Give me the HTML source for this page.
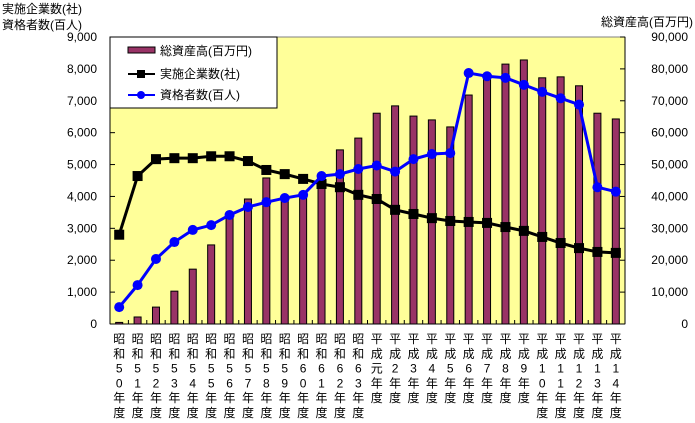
<!DOCTYPE html>
<html><head><meta charset="utf-8"><style>
body{margin:0;background:#fff;}
svg{display:block;font-family:"Liberation Sans","Noto Sans CJK JP",sans-serif;}
</style></head><body>
<svg id="chart" width="695" height="423">
<rect x="110" y="37" width="515" height="287" fill="#FFFF99" stroke="#808080"/>
<g id="bars"></g>
<g id="lines"></g>
<g id="axes"></g>
<text x="2" y="13" font-size="12">実施企業数(社)</text>
<text x="2" y="29" font-size="12">資格者数(百人)</text>
<text x="693" y="26" font-size="12" text-anchor="end">総資産高(百万円)</text>
<g>
<rect x="110" y="37" width="167" height="71" fill="#fff" stroke="#000"/>
<rect x="128" y="47" width="27" height="6" fill="#993366" stroke="#000"/>
<text x="160" y="55" font-size="12">総資産高(百万円)</text>
<line x1="128" y1="74" x2="155" y2="74" stroke="#000" stroke-width="2"/><rect x="137" y="70" width="8" height="8" fill="#000"/>
<text x="160" y="78" font-size="12">実施企業数(社)</text>
<line x1="128" y1="95" x2="155" y2="95" stroke="#0000FF" stroke-width="2"/><circle cx="141" cy="95" r="4" fill="#0000FF"/>
<text x="160" y="99" font-size="12">資格者数(百人)</text>
</g>
</svg>
<script>
const categories=[["昭","和","5","0","年","度"],["昭","和","5","1","年","度"],["昭","和","5","2","年","度"],["昭","和","5","3","年","度"],["昭","和","5","4","年","度"],["昭","和","5","5","年","度"],["昭","和","5","6","年","度"],["昭","和","5","7","年","度"],["昭","和","5","8","年","度"],["昭","和","5","9","年","度"],["昭","和","6","0","年","度"],["昭","和","6","1","年","度"],["昭","和","6","2","年","度"],["昭","和","6","3","年","度"],["平","成","元","年","度"],["平","成","2","年","度"],["平","成","3","年","度"],["平","成","4","年","度"],["平","成","5","年","度"],["平","成","6","年","度"],["平","成","7","年","度"],["平","成","8","年","度"],["平","成","9","年","度"],["平","成","1","0","年","度"],["平","成","1","1","年","度"],["平","成","1","2","年","度"],["平","成","1","3","年","度"],["平","成","1","4","年","度"]];
const assets=[500,2200,5300,10300,17200,24800,34200,39200,45800,39200,40000,46000,54600,58300,66100,68400,65200,64000,61800,71800,77500,81500,82800,77200,77500,74700,66100,64300];
const companies=[2800,4640,5170,5200,5200,5260,5260,5110,4830,4700,4550,4390,4290,4050,3920,3580,3450,3320,3230,3200,3170,3040,2920,2730,2540,2380,2260,2230];
const qualified=[530,1220,2040,2570,2950,3100,3420,3670,3820,3950,4050,4640,4700,4860,4970,4780,5170,5330,5360,7870,7770,7720,7500,7280,7080,6880,4290,4150];
const leftTicks=["0","1,000","2,000","3,000","4,000","5,000","6,000","7,000","8,000","9,000"];
const rightTicks=["0","10,000","20,000","30,000","40,000","50,000","60,000","70,000","80,000","90,000"];
const X0=110,X1=625,Y0=324,Y1=37;
const bw=(X1-X0)/categories.length;
const xC=i=>X0+bw*(i+0.5);
const yL=v=>Y0-(v/9000)*(Y0-Y1);
const yR=v=>Y0-(v/90000)*(Y0-Y1);
const NS="http://www.w3.org/2000/svg";
function mk(t,a,p){const e=document.createElementNS(NS,t);for(const k in a)e.setAttribute(k,a[k]);p.appendChild(e);return e;}
const gb=document.getElementById('bars'),gl=document.getElementById('lines'),ga=document.getElementById('axes');
assets.forEach((v,i)=>{const r=mk('rect',{x:xC(i)-3.5,y:yR(v),width:7,height:Y0-yR(v),fill:'#993366',stroke:'#000','stroke-width':1},gb);

});
function series(vals,color,shape,name){
 const pl=mk('polyline',{points:vals.map((v,i)=>xC(i)+','+yL(v)).join(' '),fill:'none',stroke:color,'stroke-width':3},gl);
 
 
 vals.forEach((v,i)=>{let m;
  if(shape==='sq')m=mk('rect',{x:xC(i)-5,y:yL(v)-5,width:10,height:10,fill:color},gl);
  else m=mk('circle',{cx:xC(i),cy:yL(v),r:5,fill:color},gl);
  
  });
}
series(companies,'#000','sq','companies');
series(qualified,'#0000FF','ci','qualified');
mk('line',{x1:X0,y1:Y1,x2:X0,y2:Y0,stroke:'#000'},ga);
mk('line',{x1:X1,y1:Y1,x2:X1,y2:Y0,stroke:'#000'},ga);
mk('line',{x1:X0,y1:Y0,x2:X1,y2:Y0,stroke:'#000'},ga);
leftTicks.forEach((t,i)=>{const y=Y0-i*(Y0-Y1)/9;
 mk('line',{x1:X0,y1:y,x2:X0+5,y2:y,stroke:'#000'},ga);
 const tx=mk('text',{x:97,y:y+4,'font-size':12,'text-anchor':'end'},ga);tx.textContent=t;
 
 });
rightTicks.forEach((t,i)=>{const y=Y0-i*(Y0-Y1)/9;
 mk('line',{x1:X1-5,y1:y,x2:X1,y2:y,stroke:'#000'},ga);
 const tx=mk('text',{x:688,y:y+4,'font-size':12,'text-anchor':'end'},ga);tx.textContent=t;
 
 });
categories.forEach((c,i)=>{
 mk('line',{x1:X0+bw*i,y1:Y0,x2:X0+bw*i,y2:Y0-4,stroke:'#000'},ga);
 c.forEach((ch,j)=>{const tx=mk('text',{x:xC(i),y:343+j*14.8,'font-size':12,'text-anchor':'middle'},ga);tx.textContent=ch;
 
 });
});
</script>
</body></html>
